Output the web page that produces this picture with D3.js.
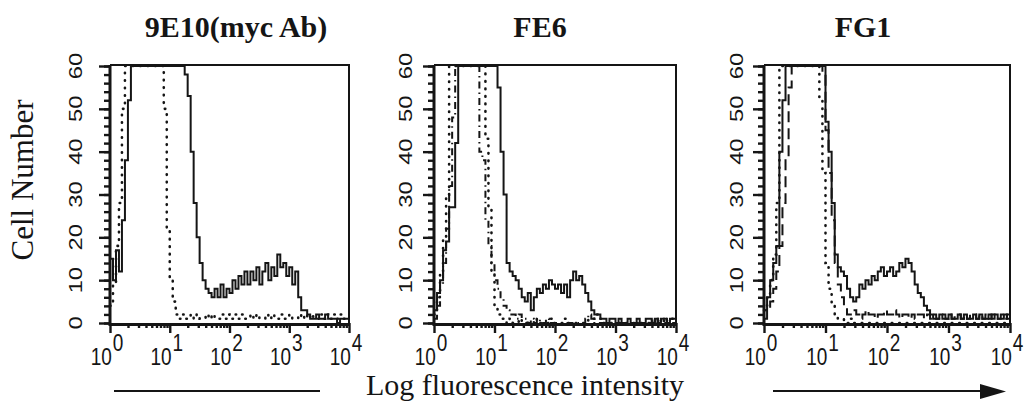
<!DOCTYPE html>
<html>
<head>
<meta charset="utf-8">
<script src="https://cdn.jsdelivr.net/npm/d3@7"></script>
<style>
  body { margin: 0; background: #fff; }
  svg { display: block; }
</style>
</head>
<body>
<div id="chart"></div>
<script>
// panel titles
var titles = ["9E10(myc Ab)", "FE6", "FG1"];
// exponents shown on the log axis
var decades = [0, 1, 2, 3, 4];
// labelled y ticks
var yMajor = [0, 10, 20, 30, 40, 50, 60];
// width of one histogram channel, in decades
var binWidth = 0.05;

// 9E10 panel: stained (solid) and control (dotted)
var p1Solid = [15, 10, 17, 12, 24, 38, 52, 75, 90, 105, 118, 130, 138, 142, 140, 135,
  128, 120, 112, 104, 96, 88, 80, 70, 64, 58, 53, 40, 28, 20, 14, 10,
  8, 7, 6, 8, 6, 9, 6, 8, 7, 10, 8, 11, 9, 12, 9, 12,
  10, 13, 9, 12, 14, 10, 13, 11, 16, 13, 14, 11, 13, 9, 12, 6,
  3, 3, 2, 1, 1, 2, 1, 1, 2, 1, 1, 1, 0, 1, 1, 1];
var p1Dotted = [4, 9, 18, 28, 50, 70, 85, 100, 112, 120, 126, 128, 125, 118, 108, 96,
  82, 68, 50, 22, 10, 5, 2, 1, 2, 1, 1, 2, 1, 2, 1, 1,
  2, 1, 2, 1, 1, 2, 1, 2, 1, 1, 2, 1, 2, 1, 1, 2,
  1, 2, 1, 1, 2, 1, 2, 1, 1, 2, 1, 1, 2, 1, 1, 2,
  1, 2, 1, 2, 1, 1, 2, 1, 2, 1, 1, 2, 1, 2, 1, 1];

// FE6 panel: solid, dotted and dash-dot
var p2Solid = [3, 7, 10, 17, 19, 27, 27, 42, 72, 88, 102, 115, 124, 130, 132, 130,
  126, 118, 108, 96, 75, 55, 40, 30, 14, 12, 11, 10, 8, 6, 5, 7,
  3, 6, 8, 7, 9, 8, 10, 9, 8, 9, 7, 9, 6, 10, 12, 10,
  11, 9, 7, 5, 3, 2, 2, 1, 1, 0, 1, 1, 0, 1, 0, 0,
  1, 0, 0, 1, 0, 0, 1, 1, 0, 1, 0, 1, 1, 0, 1, 1];
var p2Dotted = [2, 6, 12, 20, 30, 68, 84, 96, 108, 118, 124, 126, 122, 114, 100, 86,
  64, 43, 27, 12, 4, 2, 1, 1, 0, 1, 0, 0, 1, 0, 0, 0,
  0, 1, 0, 0, 0, 0, 1, 0, 0, 0, 0, 1, 0, 0, 0, 0,
  0, 0, 0, 1, 1, 2, 2, 1, 0, 0, 0, 0, 0, 0, 0, 0,
  0, 0, 0, 0, 0, 0, 0, 0, 0, 1, 0, 1, 0, 1, 1, 0];
var p2DashDot = [1, 4, 9, 14, 22, 32, 48, 66, 84, 98, 110, 118, 122, 110, 64, 40,
  38, 24, 18, 14, 10, 8, 6, 4, 3, 2, 2, 1, 2, 1, 1, 0,
  1, 0, 1, 0, 0, 1, 0, 0, 0, 0, 0, 0, 0, 0, 0, 0,
  0, 0, 1, 2, 1, 0, 0, 0, 0, 0, 0, 0, 0, 0, 0, 0,
  0, 0, 0, 0, 0, 0, 0, 0, 1, 0, 1, 1, 0, 1, 0, 0];

// FG1 panel: solid, dotted and dashed
var p3Solid = [3, 6, 10, 14, 18, 40, 52, 66, 80, 94, 106, 116, 124, 128, 126, 120,
  112, 104, 86, 64, 47, 40, 28, 16, 13, 12, 11, 8, 6, 5, 6, 9,
  8, 10, 9, 11, 10, 12, 13, 11, 12, 13, 11, 12, 14, 13, 15, 14,
  12, 9, 7, 6, 4, 3, 2, 1, 1, 2, 1, 1, 2, 1, 1, 2,
  1, 2, 1, 1, 2, 1, 2, 1, 1, 2, 1, 2, 1, 1, 2, 1];
var p3Dotted = [3, 6, 10, 16, 28, 62, 80, 96, 110, 120, 126, 128, 124, 116, 104, 90,
  76, 64, 52, 35, 14, 8, 4, 2, 1, 1, 0, 0, 1, 0, 0, 0,
  0, 0, 0, 0, 0, 0, 0, 0, 0, 0, 0, 0, 0, 0, 0, 0,
  0, 0, 0, 0, 0, 0, 0, 0, 0, 0, 0, 0, 0, 0, 0, 0,
  0, 0, 0, 0, 0, 0, 0, 0, 0, 0, 0, 0, 0, 0, 0, 0];
var p3Dashed = [1, 3, 5, 8, 12, 18, 28, 38, 55, 70, 86, 100, 112, 120, 124, 122,
  114, 100, 82, 58, 45, 35, 24, 14, 9, 6, 4, 2, 2, 3, 2, 1,
  2, 3, 2, 2, 1, 2, 2, 3, 2, 2, 3, 2, 1, 2, 2, 1,
  2, 1, 2, 2, 1, 2, 1, 2, 1, 2, 2, 1, 2, 1, 2, 2,
  1, 2, 1, 2, 2, 1, 2, 1, 2, 1, 2, 1, 1, 2, 1, 2];

// line styles
var styles = {
  solid: { width: 2, dash: null, cap: "butt" },
  dotted: { width: 2.6, dash: "0.5,7", cap: "round" },
  dashdot: { width: 2, dash: "7,4,1.5,4", cap: "butt" },
  dashed: { width: 2, dash: "11,6", cap: "butt" }
};

var panels = [
  { series: [[p1Dotted, "dotted"], [p1Solid, "solid"]] },
  { series: [[p2Dotted, "dotted"], [p2DashDot, "dashdot"], [p2Solid, "solid"]] },
  { series: [[p3Dotted, "dotted"], [p3Dashed, "dashed"], [p3Solid, "solid"]] }
];

// layout of the three plots
var panelLeft = [110, 434, 764],
  panelRight = [349, 676, 1010],
  labelGap = [28, 22, 21],
  titleX = [236, 540, 863];
var plotTop = 65, plotBottom = 323;
var ink = "#151515";

var svg = d3.select("#chart")
  .append("svg")
  .attr("width", 1026)
  .attr("height", 403)
  .style("background", "#fff");

var y = d3.scaleLinear()
  .domain([0, 60])
  .range([plotBottom, 66])
  .clamp(true); // the histograms run off the top and are cut at 60

panels.forEach(function (p, k) {
  var x = d3.scaleLog()
    .domain([1, 1e4])
    .range([panelLeft[k], panelRight[k]]);
  var g = svg.append("g");

  // title
  g.append("text")
    .attr("x", titleX[k])
    .attr("y", 37)
    .attr("text-anchor", "middle")
    .style("font-family", "'Liberation Serif', 'Times New Roman', serif")
    .style("font-weight", "bold")
    .style("font-size", "30px")
    .style("fill", ink)
    .text(titles[k]);

  // thin frame on top and right
  g.append("path")
    .attr("d", "M" + x(1) + "," + plotTop + "H" + x(1e4) + "V" + plotBottom)
    .attr("fill", "none")
    .attr("stroke", ink)
    .attr("stroke-width", 2);

  // histograms drawn as steps, one per channel
  var line = d3.line()
    .x(function (d) { return x(d[0]) })
    .y(function (d) { return y(d[1]) })
    .curve(d3.curveStepAfter);

  p.series.forEach(function (s) {
    var vals = s[0], st = styles[s[1]];
    var pts = vals.map(function (v, i) { return [Math.pow(10, i * binWidth), v] });
    pts.push([1e4, vals[vals.length - 1]]);
    g.append("path")
      .datum(pts)
      .attr("d", line)
      .attr("fill", "none")
      .attr("stroke", ink)
      .attr("stroke-width", st.width)
      .attr("stroke-linecap", st.cap)
      .attr("stroke-linejoin", "miter")
      .attr("stroke-dasharray", st.dash);
  });

  // y ticks: small every 2, longer every 10
  var yMinor = g.append("g")
    .attr("transform", "translate(" + x(1) + ",0)")
    .call(d3.axisLeft(y).tickValues(d3.range(0, 61, 2)).tickSize(6).tickFormat(""));
  var yMaj = g.append("g")
    .attr("transform", "translate(" + x(1) + ",0)")
    .call(d3.axisLeft(y).tickValues(yMajor).tickSize(11).tickFormat(""));

  // x ticks: minor 2..9 of each decade, longer at decades
  var minorVals = x.ticks().filter(function (v) { return Math.abs(Math.log10(v) % 1) > 1e-6 });
  var xMinor = g.append("g")
    .attr("transform", "translate(0," + plotBottom + ")")
    .call(d3.axisBottom(x).tickValues(minorVals).tickSize(5).tickFormat(""));
  var xMaj = g.append("g")
    .attr("transform", "translate(0," + plotBottom + ")")
    .call(d3.axisBottom(x).tickValues(decades.map(function (d) { return Math.pow(10, d) })).tickSize(10).tickFormat(""));

  [yMinor, yMaj, xMinor, xMaj].forEach(function (a) {
    a.select(".domain").remove();
    a.selectAll("line").attr("stroke", ink).attr("stroke-width", 2.4);
  });

  // heavy axis lines
  g.append("path")
    .attr("d", "M" + x(1) + "," + plotTop + "V" + (plotBottom + 1.5) + "H" + (x(1e4) + 1))
    .attr("fill", "none")
    .attr("stroke", ink)
    .attr("stroke-width", 3);

  // y tick labels, turned to read upwards
  var yl = g.selectAll("g.ylab")
    .data(yMajor)
    .enter()
    .append("g")
    .attr("class", "ylab")
    .attr("transform", function (d) {
      return "translate(" + (x(1) - labelGap[k]) + "," + y(d) + ")";
    });
  yl.append("text")
    .attr("transform", "rotate(-90) scale(1.25,1)")
    .attr("text-anchor", "middle")
    .style("font-family", "'Liberation Sans', Arial, sans-serif")
    .style("font-size", "19px")
    .style("fill", ink)
    .text(function (d) { return d });

  // x tick labels 10^n, sitting a little left of their tick
  var xl = g.selectAll("text.xlab")
    .data(decades)
    .enter()
    .append("text")
    .attr("class", "xlab")
    .attr("transform", function (d) {
      return "translate(" + (x(Math.pow(10, d)) - 3) + ",365) scale(1,1.3)";
    })
    .attr("text-anchor", "middle")
    .style("font-family", "'Liberation Sans', Arial, sans-serif")
    .style("font-size", "19px")
    .style("fill", ink);
  xl.append("tspan").text("10");
  xl.append("tspan").attr("dx", 1).attr("dy", -11).text(function (d) { return d });
});

// axis titles
svg.append("text")
  .attr("transform", "translate(33,180) rotate(-90)")
  .attr("text-anchor", "middle")
  .style("font-family", "'Liberation Serif', 'Times New Roman', serif")
  .style("font-size", "31px")
  .style("fill", ink)
  .text("Cell Number");

svg.append("text")
  .attr("x", 525)
  .attr("y", 395)
  .attr("text-anchor", "middle")
  .style("font-family", "'Liberation Serif', 'Times New Roman', serif")
  .style("font-size", "30px")
  .style("fill", ink)
  .text("Log fluorescence intensity");

// the long arrow under the x axes
svg.append("line")
  .attr("x1", 114).attr("x2", 320)
  .attr("y1", 391).attr("y2", 391)
  .attr("stroke", ink)
  .attr("stroke-width", 2);
svg.append("line")
  .attr("x1", 773).attr("x2", 984)
  .attr("y1", 391).attr("y2", 391)
  .attr("stroke", ink)
  .attr("stroke-width", 2);
svg.append("path")
  .attr("d", "M980,384L1006,391.5L980,399Z")
  .attr("fill", ink);
</script>
</body>
</html>
